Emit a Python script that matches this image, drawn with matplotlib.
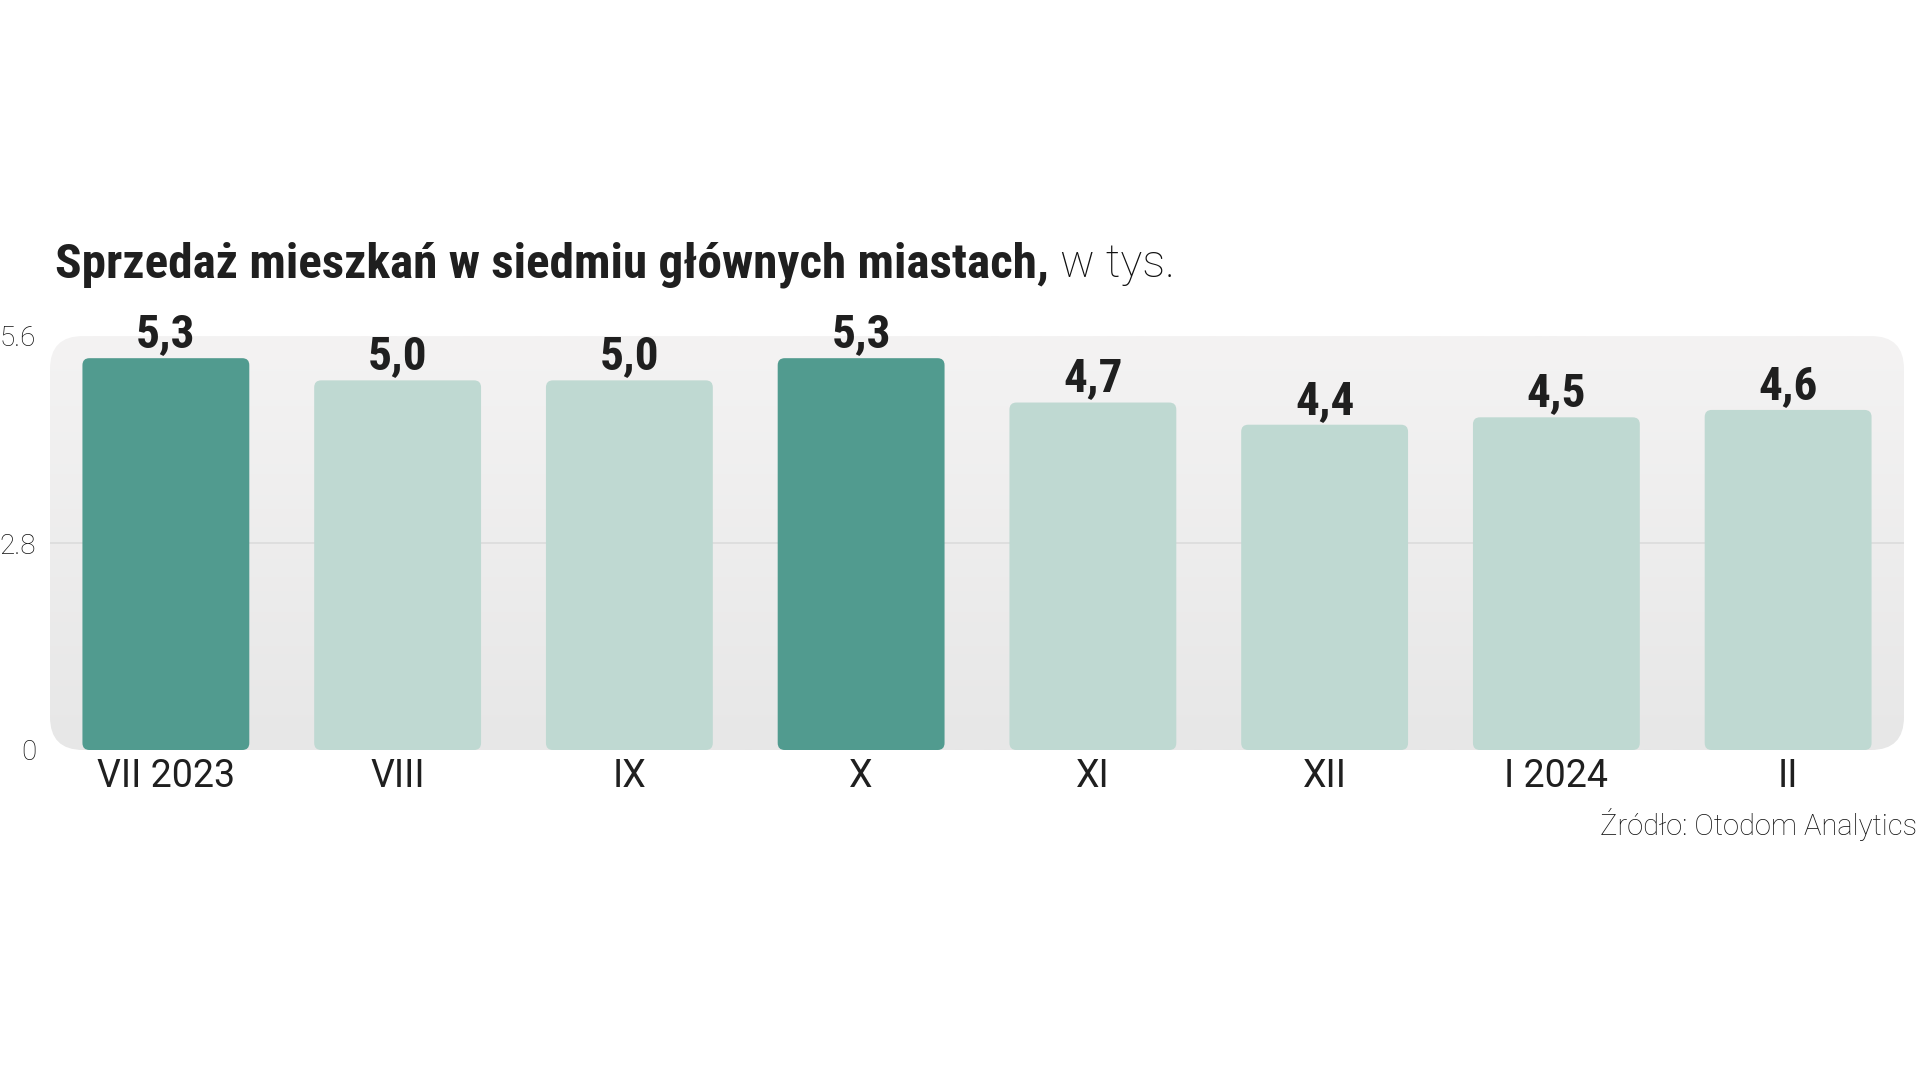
import matplotlib
matplotlib.use("Agg")
import matplotlib.pyplot as plt
import numpy as np
from matplotlib import font_manager as fm
from matplotlib.patches import FancyBboxPatch

# ---- data ----
categories = ["VII 2023", "VIII", "IX", "X", "XI", "XII", "I 2024", "II"]
values = [5.3, 5.0, 5.0, 5.3, 4.7, 4.4, 4.5, 4.6]
value_labels = ["5,3", "5,0", "5,0", "5,3", "4,7", "4,4", "4,5", "4,6"]
highlight = [True, False, False, True, False, False, False, False]
yticks = [0, 2.8, 5.6]
ytick_labels = ["0", "2.8", "5.6"]
title_bold = "Sprzedaż mieszkań w siedmiu głównych miastach,"
title_light = " w tys."
source = "Źródło: Otodom Analytics"

# ---- fonts ----
fonts = fm.fontManager.ttflist
names = {f.name for f in fonts}
cond = None
for cand in ["Roboto Condensed", "Liberation Sans Narrow", "Open Sans Condensed", "DejaVu Sans Condensed"]:
    if cand in names:
        cond = dict(family=cand)
        break
if cond is None:
    if any(f.name == "DejaVu Sans" and f.stretch == "condensed" for f in fonts):
        cond = dict(family="DejaVu Sans", stretch="condensed")
    else:
        cond = dict(family="DejaVu Sans")
light_family = "Roboto" if "Roboto" in names else "DejaVu Sans"

DARK = "#519b8f"
LIGHT = "#bfd9d2"
TXT = "#1f1f1f"

W, H = 1919, 1080
fig = plt.figure(figsize=(W / 100, H / 100), dpi=100)
fig.patch.set_facecolor("white")

ax_l, ax_r, ax_t, ax_b = 50, 1904, 336, 750
ax = fig.add_axes([ax_l / W, 1 - ax_b / H, (ax_r - ax_l) / W, (ax_b - ax_t) / H])
ax.set_xlim(-0.5, len(categories) - 0.5)
ax.set_ylim(0, 5.6)
ax.set_facecolor("none")
for s in ax.spines.values():
    s.set_visible(False)

# gradient rounded panel (lighter on top, darker at bottom)
axw_px, axh_px = ax_r - ax_l, ax_b - ax_t
panel = FancyBboxPatch((0, 0), 1, 1, boxstyle="round,pad=0,rounding_size=%f" % (33 / axw_px),
                       mutation_aspect=axw_px / axh_px, transform=ax.transAxes,
                       facecolor="none", edgecolor="none")
ax.add_patch(panel)
grad = np.linspace(0, 1, 256).reshape(-1, 1)
cmap = matplotlib.colors.LinearSegmentedColormap.from_list("g", ["#e7e7e7", "#f4f3f3"])
im = ax.imshow(grad, extent=[0, 1, 1, 0], transform=ax.transAxes, aspect="auto",
               cmap=cmap, zorder=0, interpolation="bilinear")
im.set_clip_path(panel)

# grid
ax.set_yticks(yticks)
ax.set_yticklabels(ytick_labels, family=light_family, fontweight="light", fontsize=20, color="#111111")
ax.yaxis.grid(True, color="#dcdcdc", linewidth=1.2, zorder=1)
ax.set_axisbelow(True)
gl = ax.yaxis.get_gridlines()
gl[0].set_visible(False)
gl[-1].set_visible(False)
ax.tick_params(axis="y", length=0, pad=10)

# bars
x = np.arange(len(categories))
bw = 0.72
bars = ax.bar(x, values, width=bw, color=[DARK if h else LIGHT for h in highlight], zorder=2)
xunit_px = axw_px / 8.0
yunit_px = axh_px / 5.6
for b in bars:
    b.set_visible(False)
    p = FancyBboxPatch((b.get_x(), b.get_y()), b.get_width(), b.get_height(),
                       boxstyle="round,pad=0,rounding_size=%f" % (7 / xunit_px),
                       mutation_aspect=xunit_px / yunit_px,
                       facecolor=b.get_facecolor(), edgecolor="none", zorder=2)
    ax.add_patch(p)

for xi, v, lab in zip(x, values, value_labels):
    ax.annotate(lab, (xi, v), xytext=(0, 8), textcoords="offset points",
                ha="center", va="baseline", fontsize=34, fontweight="bold", color=TXT, **cond)

ax.set_xticks(x)
ax.set_xticklabels(categories, family=light_family, fontsize=27, color=TXT)
ax.tick_params(axis="x", length=0, pad=6)

# title
t1 = fig.text(55 / W, 1 - 277 / H, title_bold, fontsize=35.5, fontweight="bold", color=TXT,
              va="baseline", ha="left", **cond)
fig.canvas.draw()
r = fig.canvas.get_renderer()
bb = t1.get_window_extent(r)
fig.text(bb.x1 / W, 1 - 277 / H, title_light, fontsize=33, fontweight="light", color="#111111",
         va="baseline", ha="left", family=light_family)

fig.text(1917 / W, 1 - 835 / H, source, fontsize=21, fontweight="light", color="#111111",
         va="baseline", ha="right", family=light_family)

fig.savefig("out.png", dpi=100, facecolor="white")
